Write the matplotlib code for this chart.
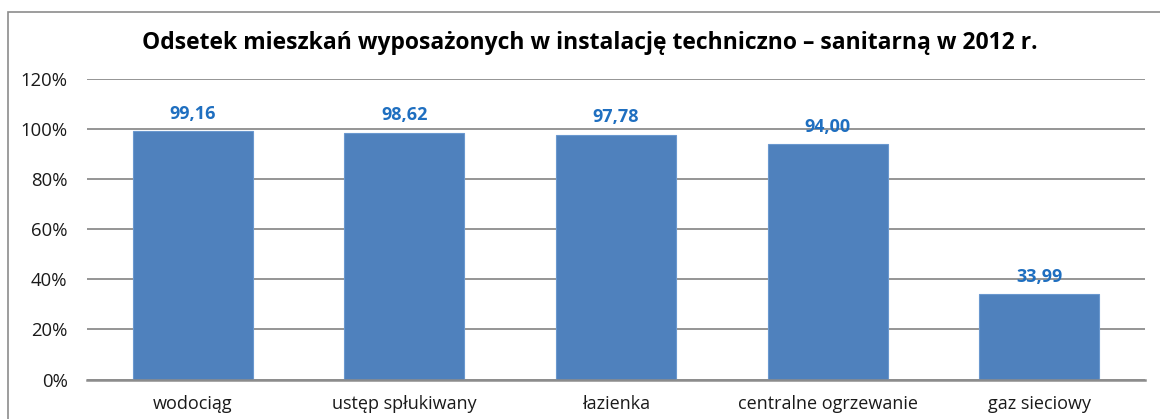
import matplotlib
matplotlib.use("Agg")
import matplotlib.pyplot as plt
from matplotlib.patches import Rectangle
from matplotlib.ticker import FuncFormatter

# data
categories = ["wodociąg", "ustęp spłukiwany", "łazienka", "centralne ogrzewanie", "gaz sieciowy"]
values = [99.16, 98.62, 97.78, 94.00, 33.99]
value_labels = ["99,16", "98,62", "97,78", "94,00", "33,99"]
y_ticks = [0, 20, 40, 60, 80, 100, 120]

BAR_COLOR = "#4F81BD"
LABEL_COLOR = "#1F6FC0"
GRID_COLOR = "#8C8C8C"

plt.rcParams["font.family"] = ["Open Sans", "DejaVu Sans"]

fig = plt.figure(figsize=(11.6, 4.19), dpi=100, facecolor="white")

# outer chart frame (cut off at right and bottom like the reference)
fig.patches.append(Rectangle((8 / 1160, -0.1), 1.2, 1 - 12 / 419 + 0.1,
                             transform=fig.transFigure, fill=False,
                             edgecolor="#8C8C8C", linewidth=1.2))

ax = fig.add_axes([87 / 1160, 1 - 379.5 / 419, (1145 - 87) / 1160, (379.5 - 79) / 419])

x = range(len(categories))
ax.bar(x, values, width=0.567, color=BAR_COLOR, edgecolor="#6A98CF", linewidth=0.8, zorder=3)

for xi, v, lab in zip(x, values, value_labels):
    ax.annotate(lab, (xi, v), xytext=(0, 9), textcoords="offset points",
                ha="center", va="baseline", color=LABEL_COLOR,
                fontsize=13, fontweight="bold")

ax.set_xlim(-0.5, len(categories) - 0.5)
ax.set_ylim(0, 120)
ax.set_yticks(y_ticks)
ax.yaxis.set_major_formatter(FuncFormatter(lambda v, p: f"{v:.0f}%"))
ax.set_xticks(list(x))
ax.set_xticklabels(categories)

ax.grid(axis="y", color=GRID_COLOR, linewidth=1.3, zorder=0)
ax.set_axisbelow(True)
for s in ["top", "right", "left"]:
    ax.spines[s].set_visible(False)
ax.spines["bottom"].set_color(GRID_COLOR)
ax.spines["bottom"].set_linewidth(1.8)
ax.spines["bottom"].set_zorder(4)

ax.tick_params(axis="y", length=0, pad=14, labelsize=13.3, labelcolor="#1a1a1a")
ax.tick_params(axis="x", length=0, pad=11, labelsize=13, labelcolor="#1a1a1a")

fig.text(590 / 1160, 1 - 43 / 419,
         "Odsetek mieszkań wyposażonych w instalację techniczno – sanitarną w 2012 r.",
         ha="center", va="center", fontsize=16.5, fontweight="bold", color="black")

fig.savefig("out.png", dpi=100, facecolor="white")
